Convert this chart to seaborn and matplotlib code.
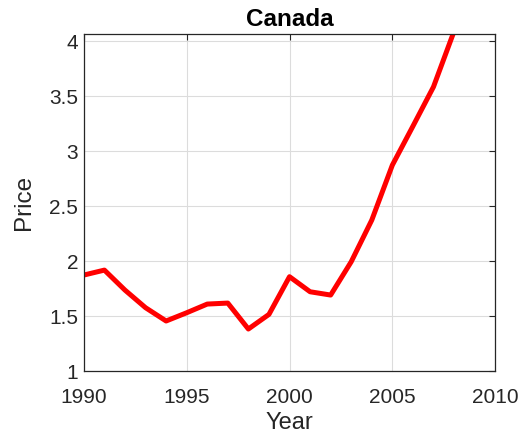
import pandas as pd
import matplotlib
matplotlib.use("Agg")
import matplotlib.pyplot as plt
import seaborn as sns

# values
years = [1990, 1991, 1992, 1993, 1994, 1995, 1996, 1997, 1998, 1999,
         2000, 2001, 2002, 2003, 2004, 2005, 2006, 2007, 2008]
price = [1.873, 1.918, 1.736, 1.576, 1.455, 1.530, 1.609, 1.618, 1.382, 1.515,
         1.858, 1.721, 1.691, 1.994, 2.373, 2.873, 3.227, 3.585, 4.09]
x_ticks = [1990, 1995, 2000, 2005, 2010]
y_ticks = [1, 1.5, 2, 2.5, 3, 3.5, 4]
y_tick_labels = ["1", "1.5", "2", "2.5", "3", "3.5", "4"]

df = pd.DataFrame({"Year": years, "Price": price})

sns.set_style("white")
plt.rcParams["font.family"] = ["Liberation Sans", "DejaVu Sans"]

fig = plt.figure(figsize=(5.24, 4.37), dpi=100)
ax = fig.add_axes([0.160, 0.151, 0.785, 0.771])

sns.lineplot(data=df, x="Year", y="Price", color="#ff0000", linewidth=3.6, ax=ax)

ax.set_xlim(1990, 2010)
ax.set_ylim(1, 4.065)
ax.set_xticks(x_ticks)
ax.set_yticks(y_ticks)
ax.set_yticklabels(y_tick_labels)
ax.grid(True, color="#dcdcdc", linewidth=0.8)
ax.set_axisbelow(True)

ax.tick_params(direction="in", length=4, width=0.8, colors="#262626",
               labelsize=15, top=True, right=True)
ax.tick_params(axis="x", pad=12)
ax.tick_params(axis="y", pad=4)
for s in ax.spines.values():
    s.set_color("#262626")
    s.set_linewidth(0.9)

ax.set_xlabel("Year", fontsize=17, color="#262626", labelpad=4)
ax.set_ylabel("Price", fontsize=17.5, color="#262626", labelpad=10)
ax.set_title("Canada", fontsize=17.5, fontweight="bold", color="black", pad=6)

fig.savefig("out.png", dpi=100)
